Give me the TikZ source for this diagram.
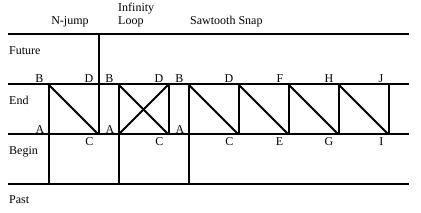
\documentclass[tikz,border=0pt]{standalone}
\usepackage{fontspec}
\setmainfont{Liberation Serif}
\begin{document}
\begin{tikzpicture}[x=1pt,y=-1pt,
  ln/.style={line width=2pt, line cap=butt},
  txt/.style={inner sep=0pt, font=\fontsize{12}{14}\selectfont},
  tl/.style={txt, anchor=base east},
]
\useasboundingbox (0,0) rectangle (421,213);
% row lines
\foreach \n/\y in {1/34.5,2/84.5,3/134.5,4/184.5}{
  \coordinate (L\n) at (8,\y);
  \coordinate (R\n) at (409,\y);
}
\foreach \n in {1,2,3,4} \draw[ln] (L\n) -- (R\n);
% columns
\foreach \n/\x in {1/48.5,2/98.5,3/118.5,4/168.5,5/188.5,6/238.5,7/288.5,8/338.5,9/388.5}{
  \coordinate (f\n) at (\x,34.5);
  \coordinate (t\n) at (\x,84.5);
  \coordinate (b\n) at (\x,134.5);
  \coordinate (p\n) at (\x,184.5);
}
% verticals
\draw[ln] (t1) -- (p1);
\draw[ln] (f2) -- (b2);
\draw[ln] (t3) -- (p3);
\draw[ln] (t4) -- (b4);
\draw[ln] (t5) -- (p5);
\foreach \n in {6,7,8,9} \draw[ln] (t\n) -- (b\n);
% diagonals
\draw[ln] (t1) -- (b2);
\draw[ln] (t3) -- (b4);
\draw[ln] (b3) -- (t4);
\draw[ln] (t5) -- (b6);
\draw[ln] (t6) -- (b7);
\draw[ln] (t7) -- (b8);
\draw[ln] (t8) -- (b9);
% headings
\node[txt, anchor=base] (hn) at (70,25) {N-jump};
\node[txt, anchor=base west] (hi) at (118,12) {Infinity};
\node[txt, anchor=base west] (hl) at (118,25) {Loop};
\node[txt, anchor=base west] (hs) at (190,25) {Sawtooth Snap};
% row labels
\node[txt, anchor=base west] (rf) at (9,55) {Future};
\node[txt, anchor=base west] (re) at (9,105) {End};
\node[txt, anchor=base west] (rb) at (9,155) {Begin};
\node[txt, anchor=base west] (rp) at (9,204) {Past};
% top vertex labels
\foreach \n/\l in {1/B,2/D,3/B,4/D,5/B,6/D,7/F,8/H,9/J}{
  \node[tl] (T\n) at ([shift={(-5,-1.5)}]t\n) {\l};
}
% A labels
\foreach \n in {1,3,5}{
  \node[tl] (A\n) at ([shift={(-4,-1)}]b\n) {A};
}
% bottom labels
\foreach \n/\l in {2/C,4/C,6/C,7/E,8/G,9/I}{
  \node[tl] (B\n) at ([shift={(-5,11.5)}]b\n) {\l};
}
\end{tikzpicture}
\end{document}
